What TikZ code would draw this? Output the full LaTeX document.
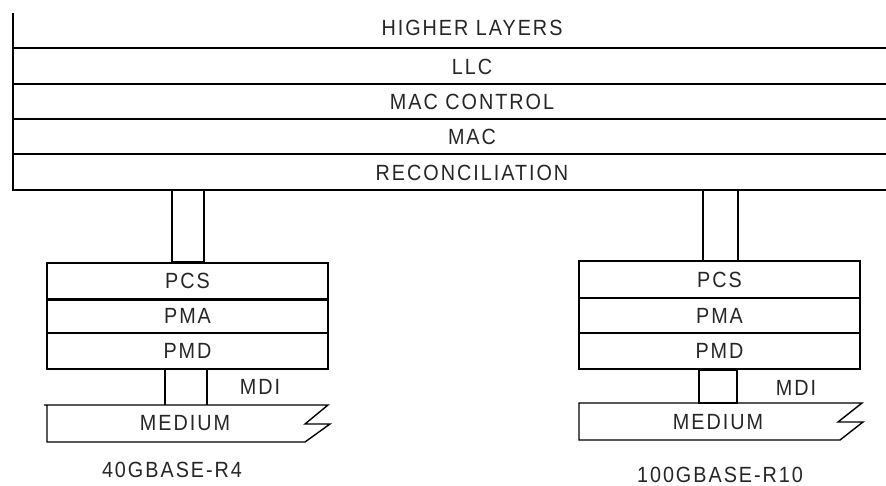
\documentclass[tikz,border=0pt]{standalone}
\usepackage{fontspec}
\setmainfont{Liberation Sans}[LetterSpace=9,FakeStretch=0.9]
\begin{document}
\begin{tikzpicture}[x=1pt,y=-1pt,line width=1.4pt,
  lbl/.style={font=\fontsize{22}{26}\selectfont,inner sep=0pt,text=black!85},
  layerbox/.style={draw,line width=1.4pt,inner sep=0pt,minimum width=281pt,
    font=\fontsize{22}{26}\selectfont,text=black!85},
  thickline/.style={line width=2.6pt}]
\useasboundingbox (0,0) rectangle (886,486);
% ---- common upper layers ----
\coordinate (topl) at (13,13);
\coordinate (botl) at (13,190);
\coordinate (botr) at (886,190);
\draw (topl) -- (botl) -- (botr);
\foreach \y in {48,84,119,154}{\draw (13,\y) -- (886,\y);}
\node[lbl] (hl)   at (472,28)  {HIGHER LAYERS};
\node[lbl] (llc)  at (472,67)  {LLC};
\node[lbl] (macc) at (472,102) {MAC CONTROL};
\node[lbl] (mac)  at (472,137) {MAC};
\node[lbl] (rec)  at (472,173) {RECONCILIATION};
% ---- left stack (40GBASE-R4) ----
\node[layerbox,minimum height=36pt] (lpcs) at (187.5,281) {PCS};
\node[layerbox,minimum height=34pt] (lpma) at (187.5,316) {PMA};
\node[layerbox,minimum height=36pt] (lpmd) at (187.5,351) {PMD};
\draw[thickline] (lpcs.south west) -- (lpcs.south east);
\coordinate (lca) at (172,190);
\coordinate (lcb) at (204,263);
\draw (lca) rectangle (lcb);
\draw[line width=2.4pt] (172,262) -- (204,262);
\coordinate (lma) at (165,369);
\coordinate (lmb) at (207,405);
\draw (lma) -- (lma|-lmb) (lmb|-lma) -- (lmb);
\draw (44,405) -- (328,405) -- (305,424) -- (330,424) -- (305,442) -- (47,442) -- (47,405);
\node[lbl] (lmed) at (185,423) {MEDIUM};
\node[lbl] (lmdi) at (260,387) {MDI};
\node[lbl] (lname) at (172,470) {40G\kern2pt BASE-R4};
% ---- right stack (100GBASE-R10) ----
\node[layerbox,minimum height=37pt] (rpcs) at (719.5,279.5) {PCS};
\node[layerbox,minimum height=35pt] (rpma) at (719.5,315.5) {PMA};
\node[layerbox,minimum height=36pt] (rpmd) at (719.5,351) {PMD};
\coordinate (rca) at (703,190);
\coordinate (rcb) at (738,261);
\draw (rca) -- (rca|-rcb) (rcb|-rca) -- (rcb);
\coordinate (rma) at (699,369);
\coordinate (rmb) at (737,403);
\draw (rma) rectangle (rmb);
\draw[line width=2.4pt] (699,370) -- (737,370);
\draw (579,403) -- (862,403) -- (838,422) -- (863,422) -- (840,440) -- (579,440) -- cycle;
\node[lbl] (rmed) at (718,422) {MEDIUM};
\node[lbl] (rmdi) at (796,388) {MDI};
\node[lbl] (rname) at (720,475) {100GBASE-R10};
\end{tikzpicture}
\end{document}
